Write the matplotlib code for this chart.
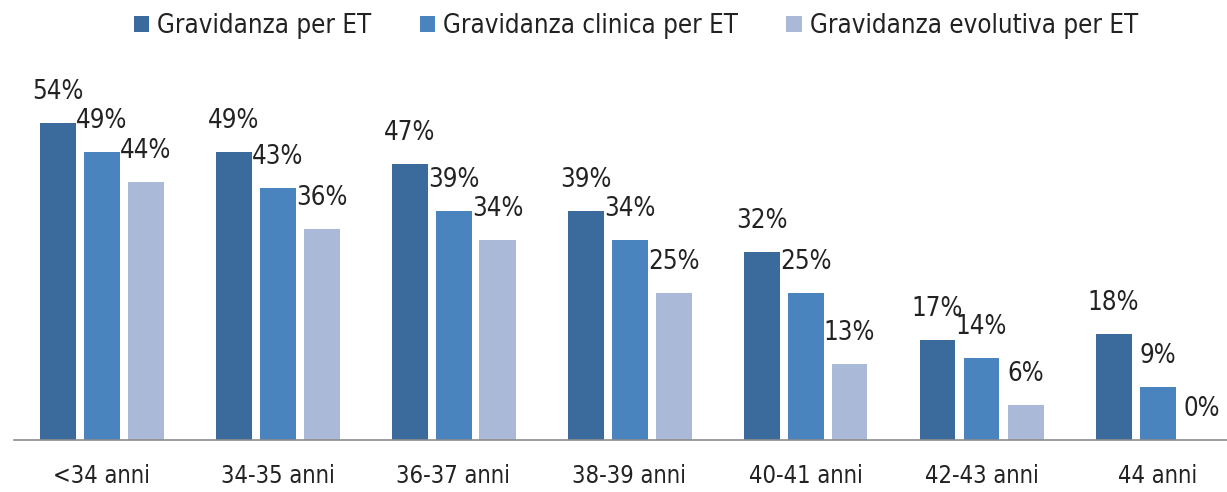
import matplotlib
matplotlib.use("Agg")
import matplotlib.pyplot as plt
import numpy as np
from matplotlib.patches import Patch

plt.rcParams['font.family'] = ['DejaVu Sans']
plt.rcParams['font.stretch'] = 'condensed'

categories = ["<34 anni", "34-35 anni", "36-37 anni", "38-39 anni", "40-41 anni", "42-43 anni", "44 anni"]
series_names = ["Gravidanza per ET", "Gravidanza clinica per ET", "Gravidanza evolutiva per ET"]
gravidanza = [54, 49, 47, 39, 32, 17, 18]
clinica = [49, 43, 39, 34, 25, 14, 9]
evolutiva = [44, 36, 34, 25, 13, 6, 0]
colors = ["#3B6A9D", "#4A84BF", "#AAB9D8"]

W, H = 1227, 492
fig = plt.figure(figsize=(W / 100, H / 100), dpi=100)
left_px, base_px, top_px = 13.5, 440, 60
ax = fig.add_axes([left_px / W, (H - base_px) / H, 1 - left_px / W, (base_px - top_px) / H])

x = np.arange(len(categories))
step = 0.25
bw = 36 / 176
fs = 17
for i, (vals, c) in enumerate(zip([gravidanza, clinica, evolutiva], colors)):
    pos = x + (i - 1) * step
    ax.bar(pos, vals, width=bw, color=c, label=series_names[i])
    for p, v in zip(pos, vals):
        ax.annotate(f"{v}%", (p, v), xytext=(0, 13), textcoords="offset points",
                    ha="center", va="bottom", fontsize=18.5, color="#222222")

px_per_unit = 176
ax.set_xlim(-0.5, (W - 101.5) / px_per_unit)
ax.set_ylim(0, (base_px - top_px) / 5.87)
ax.set_xticks(x)
ax.set_xticklabels(categories, fontsize=fs, color="#222222")
ax.tick_params(axis='x', length=0, pad=17)
ax.set_yticks([])
for s in ["top", "right", "left"]:
    ax.spines[s].set_visible(False)
ax.spines["bottom"].set_color("#8C8C8C")
ax.spines["bottom"].set_linewidth(1.2)

handles = [Patch(facecolor=c, edgecolor="none") for c in colors]
fig.legend(handles, series_names, loc="upper center", bbox_to_anchor=(0.518, 1.02), ncol=3,
           frameon=False, fontsize=18.5, handlelength=0.6, handleheight=0.6,
           handletextpad=0.3, columnspacing=1.9, labelcolor="#222222")

fig.savefig("out.png", dpi=100)
